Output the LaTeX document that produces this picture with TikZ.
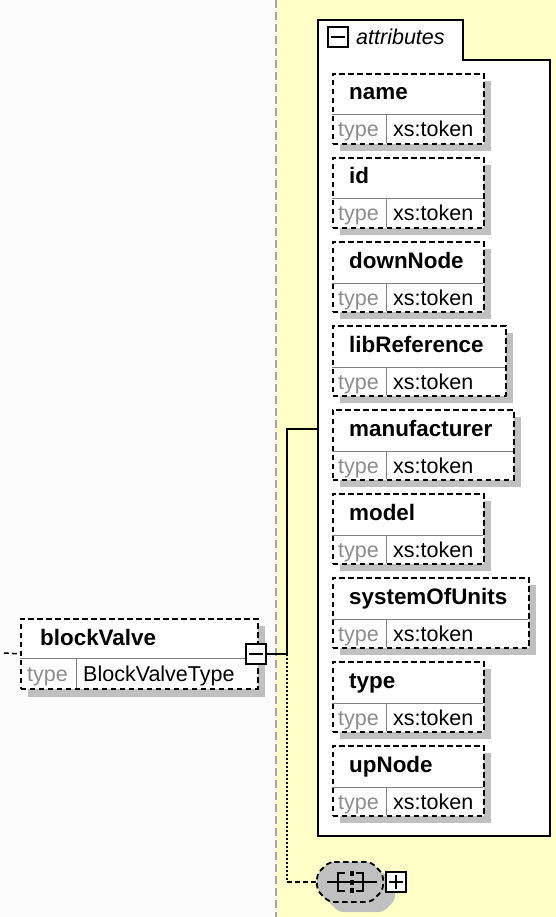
\documentclass[tikz,border=0pt]{standalone}
\usepackage{fontspec}
\setmainfont{Liberation Sans}
\usetikzlibrary{calc,positioning}

\definecolor{panel}{HTML}{FFFFC8}
\definecolor{leftbg}{HTML}{FCFCFC}
\definecolor{shadowgray}{HTML}{C0C0C0}
\definecolor{typegray}{HTML}{8C8C8C}
\definecolor{rulegray}{HTML}{808080}

\tikzset{
  entry/.style={draw, line width=1.8pt, dash pattern=on 5.5pt off 3.5pt, fill=white,
    anchor=north west, minimum height=70pt, inner sep=0pt},
  shade/.style={fill=shadowgray},
  divider/.style={draw=rulegray, line width=1pt},
  elname/.style={font=\bfseries\fontsize{22.4pt}{26pt}\selectfont, anchor=base west, inner sep=0pt},
  eltype/.style={font=\fontsize{21.5pt}{26pt}\selectfont, text=typegray, anchor=base west, inner sep=0pt},
  elvalue/.style={font=\fontsize{21.5pt}{26pt}\selectfont, anchor=base west, inner sep=0pt},
  toggle/.style={draw, fill=white, line width=1.5pt, minimum size=20pt, inner sep=0pt},
  conn/.style={line width=1.5pt},
}

\begin{document}
\begin{tikzpicture}[x=1pt, y=-1pt]
  \useasboundingbox (0,0) rectangle (556,917);
  % backgrounds
  \fill[leftbg] (0,0) rectangle (276,917);
  \fill[panel] (276,0) rectangle (556,917);
  \draw[gray!70, line width=2.5pt, dash pattern=on 8pt off 4pt] (276,0) -- (276,917);

  % attributes group
  \draw[line width=1.8pt, fill=white] (318,836) -- (318,20) -- (463,20) -- (463,60)
    -- (550,60) -- (550,836) -- cycle;
  \node[toggle] (attrtog) at (338,37) {};
  \draw[line width=1.5pt] ($(attrtog.west)+(4,0)$) -- ($(attrtog.east)-(4,0)$);
  \node[font=\itshape\fontsize{21.5pt}{26pt}\selectfont, anchor=base west, inner sep=0pt]
    (attrlabel) at (356,45) {attributes};

  \foreach \y/\nm/\r [count=\i] in {73/name/483, 157/id/483, 241/downNode/483,
      325/libReference/505, 409/manufacturer/513, 493/model/483,
      577/systemOfUnits/528, 661/type/483, 745/upNode/483} {
    \fill[shade] (340,\y+8) rectangle (\r+8,\y+78);
    \node[entry, minimum width=\r-332] (e\i) at (332,\y) {};
    \draw[divider] (332,\y+42) -- (\r,\y+42);
    \draw[divider] (386,\y+42) -- (386,\y+70);
    \node[elname] (n\i) at (349,\y+27) {\nm};
    \node[eltype] (t\i) at (338,\y+64) {type};
    \node[elvalue] (v\i) at (393,\y+64) {xs:token};
  }

  % blockValve element
  \fill[shade] (28,626) rectangle (265,697);
  \node[entry, minimum width=237pt] (bv) at (20,618) {};
  \draw[divider] (20,658) -- (257,658);
  \draw[divider] (76,658) -- (76,688);
  \node[elname] (bvname) at (40,645) {blockValve};
  \node[eltype] (bvtype) at (27,681) {type};
  \node[elvalue] (bvvalue) at (83,681) {BlockValveType};
  \node[toggle] (bvtog) at (256,654) {};
  \draw[line width=1.5pt] ($(bvtog.west)+(4,0)$) -- ($(bvtog.east)-(4,0)$);
  \draw[line width=1.5pt, dash pattern=on 5pt off 3pt] (4,653) -- (bv.west);

  % connectors
  \coordinate (fork) at (287,654);
  \coordinate (bend) at (287,429);
  \coordinate (attrin) at (318,429);
  \coordinate (seqcorner) at (287,882);
  \coordinate (seqin) at (317,882);
  \draw[conn] (bvtog.east) -- (fork) -- (bend) -- (attrin);
  \draw[line width=1.5pt, dash pattern=on 2pt off 2pt] (fork) -- (seqcorner);
  \draw[line width=1.5pt, dash pattern=on 5pt off 3pt] (seqcorner) -- (seqin);

  % sequence compositor
  \fill[shade, rounded corners=4pt] (339,872) -- (383,872) -- (395,884) -- (395,900)
    -- (383,912) -- (339,912) -- (327,900) -- (327,884) -- cycle;
  \draw[fill=shadowgray, line width=1.8pt, dash pattern=on 5.5pt off 3.5pt, rounded corners=5pt]
    (329,862) -- (371,862) -- (383,874) -- (383,890) -- (371,902) -- (329,902)
    -- (317,890) -- (317,874) -- cycle;
  \draw[line width=1.5pt] (327,882) -- (377,882);
  \draw[line width=1.5pt] (345,873) -- (338,873) -- (338,891) -- (345,891);
  \draw[line width=1.5pt] (356,873) -- (363,873) -- (363,891) -- (356,891);
  \fill (349.5,871) rectangle (353.5,876);
  \fill (349.5,879.5) rectangle (353.5,884.5);
  \fill (349.5,888) rectangle (353.5,893);
  \node[toggle] (seqtog) at (396,882) {};
  \draw[line width=1.5pt] ($(seqtog.west)+(4,0)$) -- ($(seqtog.east)-(4,0)$);
  \draw[line width=1.5pt] ($(seqtog.north)+(0,4)$) -- ($(seqtog.south)-(0,4)$);
\end{tikzpicture}
\end{document}
